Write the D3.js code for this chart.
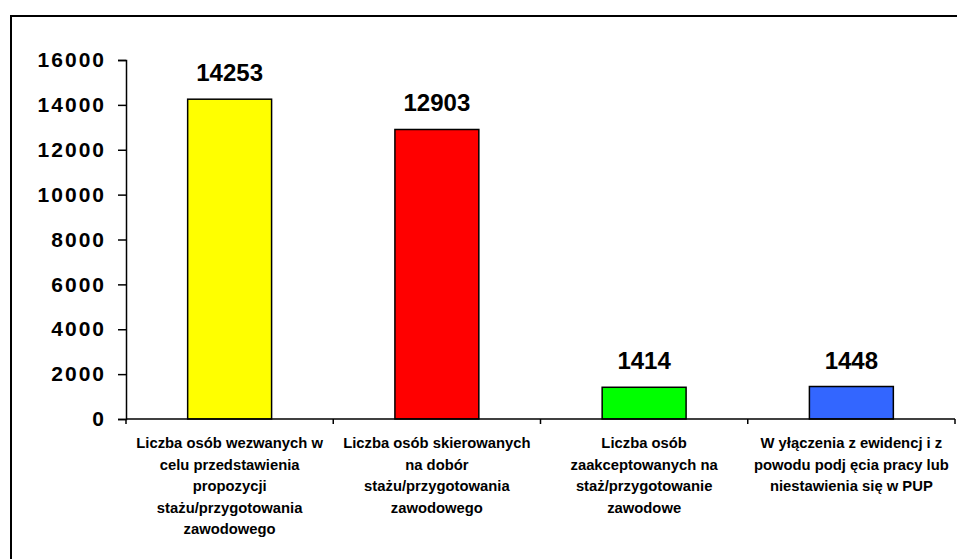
<!DOCTYPE html>
<html>
<head>
<meta charset="utf-8">
<script src="https://cdn.jsdelivr.net/npm/d3@7"></script>
<style>
  html, body { margin: 0; padding: 0; background: #fff; }
  svg { display: block; }
  text { font-family: "Liberation Sans", Arial, sans-serif; font-weight: bold; fill: #000; }
</style>
</head>
<body>
<svg id="chart" width="957" height="559"></svg>
<script>
// Category labels, one entry per bar, already broken into lines
const categories = [
  ["Liczba osób wezwanych w", "celu przedstawienia", "propozycji", "stażu/przygotowania", "zawodowego"],
  ["Liczba osób skierowanych", "na dobór", "stażu/przygotowania", "zawodowego"],
  ["Liczba osób", "zaakceptowanych na", "staż/przygotowanie", "zawodowe"],
  ["W yłączenia z ewidencj i z", "powodu podj ęcia pracy lub", "niestawienia się w PUP"]
];
const values = [14253, 12903, 1414, 1448];
const colors = ["#FFFF00", "#FF0000", "#00FF00", "#3366FF"];
const yTicks = [0, 2000, 4000, 6000, 8000, 10000, 12000, 14000, 16000];

const svg = d3.select("#chart");

// Outer frame of the chart area
svg.append("rect")
  .attr("x", 11).attr("y", 16)
  .attr("width", 1000).attr("height", 600)
  .attr("fill", "none").attr("stroke", "#000").attr("stroke-width", 2);

const plot = { left: 126, right: 955, top: 60, bottom: 419 };

const x = d3.scaleBand()
  .domain(d3.range(categories.length))
  .range([plot.left, plot.right])
  .padding(0);

const y = d3.scaleLinear()
  .domain([0, 16000])
  .range([plot.bottom, plot.top]);

const barW = x.bandwidth() * 0.405;

// Y axis
const yAxis = svg.append("g")
  .attr("transform", `translate(${plot.left},0)`)
  .call(d3.axisLeft(y).tickValues(yTicks).tickSize(8).tickPadding(12).tickFormat(d3.format("d")));
yAxis.select(".domain").attr("stroke", "#000").attr("stroke-width", 1.5);
yAxis.selectAll(".tick line").attr("stroke", "#000").attr("stroke-width", 1.5);
yAxis.selectAll(".tick text")
  .attr("font-size", 21)
  .attr("letter-spacing", 2)
  .attr("font-family", "Liberation Sans, Arial, sans-serif")
  .attr("font-weight", "bold")
  .attr("fill", "#000");

// Bars
svg.append("g").selectAll("rect")
  .data(values)
  .join("rect")
  .attr("x", (d, i) => x(i) + x.bandwidth() / 2 - barW / 2)
  .attr("width", barW)
  .attr("y", d => y(d))
  .attr("height", d => y(0) - y(d))
  .attr("fill", (d, i) => colors[i])
  .attr("stroke", "#000")
  .attr("stroke-width", 1.5);

// X axis with ticks at category boundaries
const xAxisG = svg.append("g");
xAxisG.append("line")
  .attr("x1", plot.left).attr("x2", plot.right)
  .attr("y1", y(0)).attr("y2", y(0))
  .attr("stroke", "#000").attr("stroke-width", 1.5);
const bounds = d3.range(categories.length + 1).map(i => i < categories.length ? x(i) : x(i - 1) + x.bandwidth());
xAxisG.selectAll("line.tick")
  .data(bounds)
  .join("line")
  .attr("class", "tick")
  .attr("x1", d => d).attr("x2", d => d)
  .attr("y1", y(0)).attr("y2", y(0) + 5)
  .attr("stroke", "#000").attr("stroke-width", 1.5);

// Value labels above bars
svg.append("g").selectAll("text")
  .data(values)
  .join("text")
  .attr("x", (d, i) => x(i) + x.bandwidth() / 2)
  .attr("y", d => y(d) - 18)
  .attr("text-anchor", "middle")
  .attr("font-size", 24)
  .text(d => d);

// Category labels under the axis
const catG = svg.append("g").selectAll("text")
  .data(categories)
  .join("text")
  .attr("x", (d, i) => x(i) + x.bandwidth() / 2)
  .attr("y", 448)
  .attr("text-anchor", "middle")
  .attr("font-size", 14.8);
catG.selectAll("tspan")
  .data(d => d)
  .join("tspan")
  .attr("x", function () { return d3.select(this.parentNode).attr("x"); })
  .attr("dy", (d, i) => i === 0 ? 0 : 21.5)
  .text(d => d);
</script>
</body>
</html>
